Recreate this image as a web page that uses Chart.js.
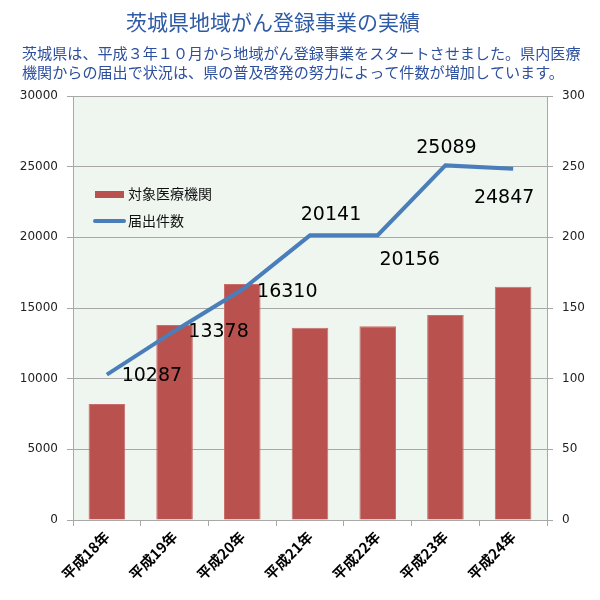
<!DOCTYPE html>
<html>
<head>
<meta charset="utf-8">
<title>茨城県地域がん登録事業の実績</title>
<script src="https://cdn.jsdelivr.net/npm/chart.js@4.4.1/dist/chart.umd.min.js"></script>
<style>
  html, body { margin: 0; padding: 0; background: #fff; }
  #wrap { width: 600px; height: 600px; }
</style>
</head>
<body>
<div id="wrap"><canvas id="myChart" width="600" height="600"></canvas></div>
<script>
// data
const years = ["平成18年", "平成19年", "平成20年", "平成21年", "平成22年", "平成23年", "平成24年"];
const reportCounts = [10287, 13378, 16310, 20141, 20156, 25089, 24847];   // 届出件数 (left axis)
const institutions = [82, 138, 167, 136, 137, 145, 165];                  // 対象医療機関 (right axis)

const titleText = "茨城県地域がん登録事業の実績";
const noteLines = [
  "茨城県は、平成３年１０月から地域がん登録事業をスタートさせました。県内医療",
  "機関からの届出で状況は、県の普及啓発の努力によって件数が増加しています。"
];

// where each value label sits relative to its point (px)
const labelOffsets = [[45, 1], [44, 1], [45, 3], [21, -20], [32, 25], [1, -17], [-9, 29]];

const BLUE = "#4a7ebb";
const RED = "#b9514e";
const GRID = "#a8a8a8";

/** titles, plot background, legend, value labels */
const decorPlugin = {
  id: "decor",
  beforeDraw(chart) {
    const { ctx, chartArea: a } = chart;
    ctx.save();
    ctx.fillStyle = "#eff5ef";
    ctx.fillRect(a.left, a.top, a.right - a.left, a.bottom - a.top);

    ctx.fillStyle = "#2f5aa6";
    ctx.font = "21px 'Noto Sans CJK JP'";
    ctx.textAlign = "center";
    ctx.textBaseline = "middle";
    ctx.fillText(titleText, 273, 22);

    ctx.fillStyle = "#2c4f9e";
    ctx.font = "15.1px 'Noto Sans CJK JP'";
    ctx.textAlign = "left";
    noteLines.forEach(function (line, i) {
      ctx.fillText(line, 22, 53 + i * 19);
    });
    ctx.restore();
  },
  afterDatasetsDraw(chart) {
    const { ctx } = chart;
    ctx.save();

    // value labels for the line
    const meta = chart.getDatasetMeta(0);
    ctx.fillStyle = "#000";
    ctx.font = "19px 'DejaVu Sans'";
    ctx.textAlign = "center";
    ctx.textBaseline = "middle";
    meta.data.forEach(function (pt, i) {
      ctx.fillText(String(reportCounts[i]), pt.x + labelOffsets[i][0], pt.y + labelOffsets[i][1]);
    });

    // legend inside the plot
    ctx.font = "14px 'Noto Sans CJK JP'";
    ctx.textAlign = "left";
    ctx.fillStyle = RED;
    ctx.fillRect(95, 191, 29, 7);
    ctx.fillStyle = "#111";
    ctx.fillText(chart.data.datasets[1].label, 128, 194);

    ctx.strokeStyle = BLUE;
    ctx.lineWidth = 4;
    ctx.lineCap = "round";
    ctx.beginPath();
    ctx.moveTo(95, 221);
    ctx.lineTo(124, 221);
    ctx.stroke();
    ctx.fillText(chart.data.datasets[0].label, 128, 221);
    ctx.restore();
  }
};

const plainTick = function (value) { return String(value); };

const ctx = document.getElementById("myChart");

new Chart(ctx, {
  type: "bar",
  data: {
    labels: years,
    datasets: [
      {
        type: "line",
        label: "届出件数",
        data: reportCounts,
        yAxisID: "y",
        borderColor: BLUE,
        borderWidth: 4,
        pointRadius: 0,
        tension: 0,
        order: 0
      },
      {
        type: "bar",
        label: "対象医療機関",
        data: institutions,
        yAxisID: "y1",
        backgroundColor: RED,
        borderColor: "#c86f6c",
        borderWidth: 1,
        barPercentage: 0.54,
        categoryPercentage: 1,
        order: 1
      }
    ]
  },
  options: {
    responsive: false,
    animation: false,
    layout: { padding: { top: 96, left: 0, right: 0, bottom: 0 } },
    plugins: {
      legend: { display: false },
      tooltip: { enabled: false }
    },
    scales: {
      x: {
        offset: true,
        grid: { offset: true, drawOnChartArea: false, color: GRID, tickLength: 6 },
        border: { color: GRID },
        ticks: {
          color: "#000",
          font: { family: "'Noto Sans CJK JP'", size: 14.5, weight: "bold" },
          minRotation: 45,
          maxRotation: 45,
          padding: 2
        },
        afterFit(scale) { scale.height = 80; }
      },
      y: {
        position: "left",
        min: 0,
        max: 30000,
        ticks: {
          stepSize: 5000,
          color: "#222",
          font: { family: "'DejaVu Sans'", size: 12 },
          padding: 9,
          callback: plainTick
        },
        grid: { color: GRID, tickLength: 6 },
        border: { color: GRID },
        afterFit(scale) { scale.width = 73; }
      },
      y1: {
        position: "right",
        min: 0,
        max: 300,
        ticks: {
          stepSize: 50,
          color: "#222",
          font: { family: "'DejaVu Sans'", size: 12 },
          padding: 9,
          callback: plainTick
        },
        grid: { drawOnChartArea: false, color: GRID, tickLength: 6 },
        border: { color: GRID },
        afterFit(scale) { scale.width = 53; }
      }
    }
  },
  plugins: [decorPlugin]
});
</script>
</body>
</html>
